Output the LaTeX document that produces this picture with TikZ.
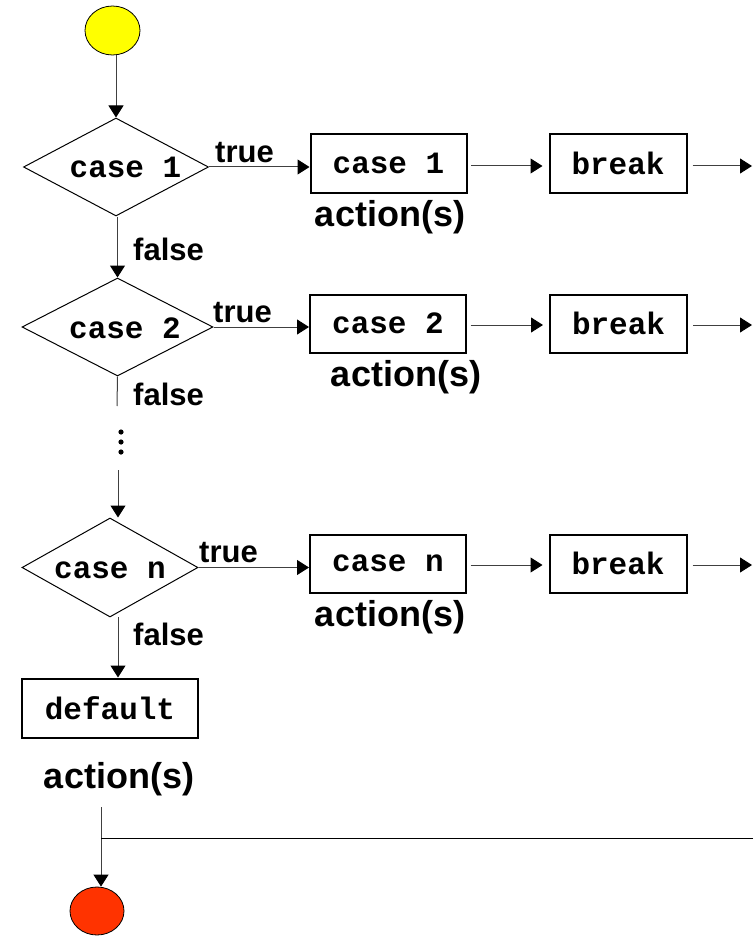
\documentclass[tikz,border=0pt]{standalone}
\usepackage{fontspec}
\setmainfont{Liberation Sans}
\newfontfamily\monofont{Liberation Mono}
\usetikzlibrary{shapes.geometric,arrows.meta}
\definecolor{startyellow}{HTML}{FFFF00}
\definecolor{stopred}{HTML}{FF3300}
\tikzset{
  codebox/.style={draw=black, line width=2pt, rectangle, inner sep=0pt,
    minimum width=156pt, minimum height=58pt,
    font=\monofont\bfseries\fontsize{31}{31}\selectfont},
  brkbox/.style={codebox, minimum width=137pt},
  decide/.style={draw=black, line width=1pt, diamond, inner sep=0pt},
  codetext/.style={font=\monofont\bfseries\fontsize{31}{31}\selectfont, inner sep=0pt, anchor=base},
  lbl/.style={font=\bfseries\fontsize{31}{31}\selectfont, inner sep=0pt, anchor=base west},
  actlbl/.style={font=\bfseries\fontsize{36}{36}\selectfont, inner sep=0pt, anchor=base},
  conn/.style={draw=black!75, line width=1pt},
  arr/.style={conn, -{Triangle[length=12pt,width=15pt,color=black]}},
  terminal/.style={ellipse, draw=black, line width=0.8pt, inner sep=0pt}
}
\begin{document}
\begin{tikzpicture}[x=1pt,y=-1pt]
\useasboundingbox (0,0) rectangle (753,936);
% start
\node[terminal, fill=startyellow, minimum width=55pt, minimum height=49pt] (start) at (112.5,30.5) {};
% decisions
\node[decide, minimum width=185pt, minimum height=98pt] (d1) at (116,167) {};
\node[codetext] (t1) at (125.5,178) {case 1};
\node[decide, minimum width=191pt, minimum height=98pt] (d2) at (117.5,327) {};
\node[codetext] (t2) at (125,338) {case 2};
\node[decide, minimum width=176pt, minimum height=99pt] (dn) at (110,567.5) {};
\node[codetext] (tn) at (110,578) {case n};
% action boxes
\node[codebox] (b1) at (388.5,163.5) {case 1};
\node[brkbox] (br1) at (618,163.5) {break};
\node[codebox] (b2) at (388,323.5) {case 2};
\node[brkbox] (br2) at (618.5,323.5) {break};
\node[codebox] (bn) at (388,563.5) {case n};
\node[brkbox] (brn) at (618,563.5) {break};
\node[codebox, minimum width=176pt, minimum height=59pt] (def) at (110,708) {default};
% stop
\node[terminal, fill=stopred, minimum width=54pt, minimum height=48pt] (stop) at (97,911) {};
% labels
\node[lbl] (tr1) at (215,163) {true};
\node[lbl] (tr2) at (213,322) {true};
\node[lbl] (trn) at (199,562) {true};
\node[lbl] (f1) at (133,260) {false};
\node[lbl] (f2) at (133,405) {false};
\node[lbl] (fn) at (133,645) {false};
\node[actlbl] (a1) at (390,226) {action(s)};
\node[actlbl] (a2) at (406,386) {action(s)};
\node[actlbl] (an) at (390,626) {action(s)};
\node[actlbl] (ad) at (119,788) {action(s)};
% coordinates
\coordinate (c2) at (117,406);
\coordinate (vn) at (118,470);
\coordinate (vd) at (118,617);
\coordinate (e0) at (101,807);
\coordinate (jr) at (753,838);
\coordinate (ex1) at (752,166);
\coordinate (ex2) at (752,325);
\coordinate (exn) at (752,565);
% vertical flow
\draw[arr] (start.south -| d1.north) -- (d1.north);
\draw[arr] (d1.south -| d2.north) -- (d2.north);
\draw[conn] (d2.south) -- (c2);
\fill (121,432) circle (2.6);
\fill (121,442) circle (2.6);
\fill (121,452) circle (2.6);
\draw[arr] (vn) -- (vn |- dn.north);
\draw[arr] (vd) -- (vd |- def.north);
\draw[arr] (e0) -- (e0 |- stop.north);
\draw[conn, draw=black] (jr) -- (jr -| e0);
% horizontal flow
\draw[arr] (d1.east) -- (d1.east -| b1.west);
\draw[arr, shorten <=3.5pt, shorten >=6pt] ([yshift=-2.5pt]b1.east) -- ([yshift=-2.5pt]br1.west);
\draw[arr, shorten <=5pt] (br1.east |- ex1) -- (ex1);
\draw[arr] (d2.east) -- (d2.east -| b2.west);
\draw[arr, shorten <=3.5pt, shorten >=6pt] ([yshift=-1.5pt]b2.east) -- ([yshift=-1.5pt]br2.west);
\draw[arr, shorten <=5pt] (br2.east |- ex2) -- (ex2);
\draw[arr] (dn.east) -- (dn.east -| bn.west);
\draw[arr, shorten <=3.5pt, shorten >=6pt] ([yshift=-1.5pt]bn.east) -- ([yshift=-1.5pt]brn.west);
\draw[arr, shorten <=5pt] (brn.east |- exn) -- (exn);
\end{tikzpicture}
\end{document}
